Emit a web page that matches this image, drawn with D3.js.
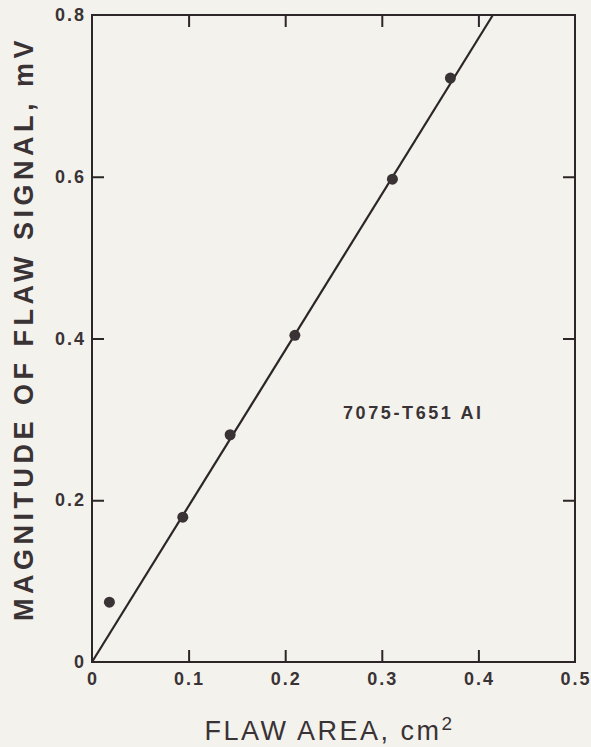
<!DOCTYPE html>
<html>
<head>
<meta charset="utf-8">
<script src="https://cdn.jsdelivr.net/npm/d3@7"></script>
<style>
  html, body { margin: 0; padding: 0; background: #f4f2ec; }
  svg { display: block; }
</style>
</head>
<body>
<svg id="chart"></svg>
<script>
// measured points (flaw area in cm2, signal in mV)
var flawArea = [0.018, 0.094, 0.143, 0.210, 0.311, 0.371];
var flawSignal = [0.074, 0.179, 0.281, 0.404, 0.597, 0.722];

// fitted line end points
var fitX = [0, 0.415];
var fitY = [0, 0.8];

var xTicks = [0, 0.1, 0.2, 0.3, 0.4, 0.5];
var xTickLabels = ["0", "0.1", "0.2", "0.3", "0.4", "0.5"];
var yTicks = [0, 0.2, 0.4, 0.6, 0.8];
var yTickLabels = ["0", "0.2", "0.4", "0.6", "0.8"];

var W = 591, H = 747;
var pLeft = 92, pRight = 575, pTop = 15, pBottom = 662;
var ink = "#2d2629";

var svg = d3.select("#chart")
    .attr("width", W)
    .attr("height", H)
    .style("background", "#f4f2ec");

var x = d3.scaleLinear().domain([0, 0.5]).range([pLeft, pRight]);
var y = d3.scaleLinear().domain([0, 0.8]).range([pBottom, pTop]);

// frame
svg.append("rect")
    .attr("x", pLeft).attr("y", pTop)
    .attr("width", pRight - pLeft).attr("height", pBottom - pTop)
    .attr("fill", "none")
    .attr("stroke", ink)
    .attr("stroke-width", 2);

// inward ticks on all four sides
var tl = 12;
function tickAxis(axis, tr) {
    var g = svg.append("g").attr("transform", tr).call(axis);
    g.select(".domain").remove();
    g.selectAll("line").attr("stroke", ink).attr("stroke-width", 2);
    g.selectAll("text").remove();
    return g;
}
var innerX = xTicks.slice(1, -1);
var innerY = yTicks.slice(1, -1);
tickAxis(d3.axisTop(x).tickValues(innerX).tickSize(tl), `translate(0,${pBottom})`);
tickAxis(d3.axisBottom(x).tickValues(innerX).tickSize(tl), `translate(0,${pTop})`);
tickAxis(d3.axisRight(y).tickValues(innerY).tickSize(tl), `translate(${pLeft},0)`);
tickAxis(d3.axisLeft(y).tickValues(innerY).tickSize(tl), `translate(${pRight},0)`);

// tick labels
var lblStyle = function(sel) {
    sel.attr("font-family", "Liberation Sans, Arial, sans-serif")
        .attr("font-size", 18)
        .attr("font-weight", "bold")
        .attr("letter-spacing", 2)
        .attr("fill", "#3a3336");
};
svg.append("g").selectAll("text")
    .data(xTicks)
    .enter().append("text")
    .attr("x", d => x(d) + 1)
    .attr("y", pBottom + 23)
    .attr("text-anchor", "middle")
    .text((d, i) => xTickLabels[i])
    .call(lblStyle);

svg.append("g").selectAll("text")
    .data(yTicks)
    .enter().append("text")
    .attr("x", pLeft - 6)
    .attr("y", d => y(d) + 6)
    .attr("text-anchor", "end")
    .text((d, i) => yTickLabels[i])
    .call(lblStyle);

// axis titles
svg.append("text")
    .attr("x", (pLeft + pRight) / 2 - 4)
    .attr("y", 740)
    .attr("text-anchor", "middle")
    .attr("font-family", "Liberation Sans, Arial, sans-serif")
    .attr("font-size", 27)
    .attr("letter-spacing", 2.5)
    .attr("fill", "#3a3336")
    .text("FLAW AREA, cm")
    .append("tspan")
    .attr("dy", -10)
    .attr("font-size", 19)
    .text("2");

svg.append("text")
    .attr("transform", `translate(33,${(pTop + pBottom) / 2 - 10}) rotate(-90)`)
    .attr("text-anchor", "middle")
    .attr("font-family", "Liberation Sans, Arial, sans-serif")
    .attr("font-size", 27)
    .attr("font-weight", "bold")
    .attr("letter-spacing", 4.5)
    .attr("fill", "#3a3336")
    .text("MAGNITUDE OF FLAW SIGNAL, mV");

// fit line
svg.append("path")
    .datum(fitX.map((d, i) => [d, fitY[i]]))
    .attr("d", d3.line().x(d => x(d[0])).y(d => y(d[1])))
    .attr("fill", "none")
    .attr("stroke", ink)
    .attr("stroke-width", 2.2);

// data points
svg.append("g").selectAll("circle")
    .data(flawArea)
    .enter().append("circle")
    .attr("cx", d => x(d))
    .attr("cy", (d, i) => y(flawSignal[i]))
    .attr("r", 5.5)
    .attr("fill", "#3a3336");

// material label
svg.append("text")
    .attr("x", 343)
    .attr("y", 419)
    .attr("font-family", "Liberation Sans, Arial, sans-serif")
    .attr("font-size", 18)
    .attr("font-weight", "bold")
    .attr("letter-spacing", 2.6)
    .attr("fill", "#3a3336")
    .text("7075-T651 Al");
</script>
</body>
</html>
